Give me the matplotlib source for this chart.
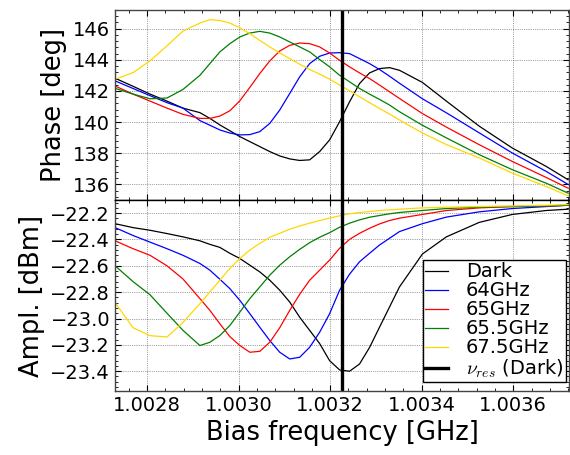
import matplotlib
matplotlib.use("Agg")
import matplotlib.pyplot as plt
from matplotlib.ticker import AutoMinorLocator, MultipleLocator

plt.rcParams['font.family'] = ['DejaVu Sans']
plt.rcParams['mathtext.fontset'] = 'cm'

# Bias frequency samples [GHz]
freq = [1.0027302, 1.0027695, 1.0028065, 1.0028436, 1.0028785,
        1.0029155, 1.0029373, 1.0029591, 1.0029809, 1.0030027, 1.0030245, 1.0030463,
        1.0030681, 1.0030899, 1.0031117, 1.0031335, 1.0031553, 1.0031771, 1.0031989,
        1.0032207, 1.0032425, 1.0032643, 1.0032861, 1.0033079, 1.0033297, 1.0033515,
        1.0034017, 1.0034540, 1.0035259, 1.0035979, 1.0036720, 1.0037200]

labels = ["Dark", "64GHz", "65GHz", "65.5GHz", "67.5GHz"]
colors = ["black", "#0000ff", "#ff0000", "#008000", "#ffd700"]

phase_dark = [142.82, 142.3, 141.8, 141.35, 140.9,
              140.61, 140.24, 139.82, 139.45, 139.07, 138.75, 138.43, 138.11, 137.83, 137.64,
              137.54, 137.58, 138.11, 138.86, 140.03, 141.31, 142.48, 143.16, 143.44, 143.5,
              143.33, 142.55, 141.35, 139.74, 138.34, 137.16, 136.3]
phase_64 = [142.65, 142.16, 141.7, 141.25, 140.9,
            140.1, 139.8, 139.5, 139.3, 139.18, 139.2, 139.39, 139.92, 140.78, 141.84,
            142.91, 143.76, 144.23, 144.44, 144.46, 144.4, 144.08, 143.76, 143.38, 142.95,
            142.5, 141.5, 140.6, 139.31, 138.02, 136.84, 136.0]
phase_65 = [142.32, 141.8, 141.35, 140.9, 140.5,
            140.24, 140.24, 140.39, 140.73, 141.37, 142.23, 143.12, 143.93, 144.57, 144.93,
            145.08, 145.04, 144.83, 144.44, 143.97, 143.55, 143.16, 142.8, 142.38, 141.95,
            141.52, 140.55, 139.68, 138.55, 137.48, 136.45, 135.76]
phase_655 = [142.17, 141.8, 141.5, 141.55, 142.1,
             143.01, 143.76, 144.51, 145.04, 145.47, 145.72, 145.83, 145.72, 145.47, 145.15,
             144.83, 144.51, 144.02, 143.55, 143.01, 142.59, 142.16, 141.8, 141.46, 141.1,
             140.67, 139.8, 138.99, 137.91, 136.95, 136.08, 135.44]
phase_675 = [142.76, 143.18, 143.94, 144.9, 145.85,
             146.36, 146.58, 146.53, 146.36, 146.06, 145.68, 145.25, 144.83, 144.44, 144.08,
             143.72, 143.38, 143.08, 142.76, 142.38, 142.01, 141.63, 141.25, 140.88, 140.52,
             140.14, 139.3, 138.56, 137.7, 136.73, 135.87, 135.27]

ampl_dark = [-22.28, -22.31, -22.33, -22.355, -22.38,
             -22.41, -22.437, -22.46, -22.505, -22.544, -22.595, -22.646, -22.709, -22.785,
             -22.875, -22.99, -23.09, -23.19, -23.32, -23.39, -23.40, -23.345, -23.22, -23.066,
             -22.913, -22.76, -22.51, -22.38, -22.27, -22.21, -22.18, -22.17]
ampl_64 = [-22.31, -22.37, -22.42, -22.47, -22.52,
           -22.582, -22.633, -22.702, -22.773, -22.862, -22.963, -23.066, -23.167, -23.256,
           -23.307, -23.294, -23.218, -23.104, -22.963, -22.785, -22.663, -22.569, -22.505,
           -22.442, -22.391, -22.34, -22.28, -22.23, -22.19, -22.165, -22.15, -22.14]
ampl_65 = [-22.41, -22.47, -22.52, -22.6, -22.7,
           -22.849, -22.938, -23.04, -23.137, -23.205, -23.256, -23.249, -23.18, -23.07,
           -22.938, -22.816, -22.709, -22.633, -22.556, -22.467, -22.399, -22.353, -22.315,
           -22.282, -22.256, -22.238, -22.21, -22.18, -22.16, -22.15, -22.145, -22.14]
ampl_655 = [-22.6, -22.72, -22.82, -22.96, -23.09,
            -23.205, -23.18, -23.129, -23.053, -22.951, -22.849, -22.76, -22.671, -22.595,
            -22.531, -22.475, -22.424, -22.383, -22.348, -22.307, -22.276, -22.251, -22.231,
            -22.218, -22.205, -22.195, -22.18, -22.165, -22.155, -22.15, -22.145, -22.14]
ampl_675 = [-22.88, -23.07, -23.13, -23.14, -23.03,
            -22.887, -22.798, -22.709, -22.62, -22.544, -22.48, -22.43, -22.383, -22.353,
            -22.322, -22.297, -22.276, -22.256, -22.238, -22.22, -22.205, -22.195, -22.188,
            -22.18, -22.175, -22.17, -22.16, -22.155, -22.15, -22.145, -22.14, -22.135]

nu_res = 1.003226

phases = [phase_dark, phase_64, phase_65, phase_655, phase_675]
ampls = [ampl_dark, ampl_64, ampl_65, ampl_655, ampl_675]

fig = plt.figure(figsize=(5.7, 4.55), dpi=100)
ax1 = fig.add_axes([0.2018, 0.5604, 0.7965, 0.4176])
ax2 = fig.add_axes([0.2018, 0.1407, 0.7965, 0.4198], sharex=ax1)

for lab, c, p, a in zip(labels, colors, phases, ampls):
    ax1.plot(freq, p, color=c, lw=0.9, label=lab)
    ax2.plot(freq, a, color=c, lw=0.9, label=lab)

ax1.axvline(nu_res, color='black', lw=2.4)
ax2.axvline(nu_res, color='black', lw=2.4, label=r'$\nu_{res}$ (Dark)')

ax1.set_xlim(1.00273, 1.003722)
ax1.set_ylim(135.0, 147.2)
ax2.set_ylim(-23.55, -22.1)
ax1.xaxis.set_major_locator(MultipleLocator(0.0002))
ax1.yaxis.set_major_locator(MultipleLocator(2))
ax2.yaxis.set_major_locator(MultipleLocator(0.2))

for ax in (ax1, ax2):
    ax.xaxis.set_minor_locator(AutoMinorLocator(5))
    ax.yaxis.set_minor_locator(AutoMinorLocator(5))
    ax.tick_params(which='both', direction='in', top=True, right=True, labelsize=14)
    ax.tick_params(which='major', length=4, width=0.8)
    ax.tick_params(which='minor', length=2, width=0.6)
    ax.grid(True, which='major', color='k', linestyle=':', lw=0.5, alpha=0.7)
    for s in ax.spines.values():
        s.set_linewidth(1.0)
        s.set_color('#444444')
    ax.ticklabel_format(axis='x', useOffset=False)

ax1.spines['bottom'].set_color('black')
ax2.spines['top'].set_color('black')
ax1.tick_params(labelbottom=False)
ax1.set_ylabel('Phase [deg]', fontsize=18.5)
ax2.set_ylabel('Ampl. [dBm]', fontsize=18.5)
ax2.set_xlabel('Bias frequency [GHz]', fontsize=18.5)

leg = ax2.legend(loc='lower right', bbox_to_anchor=(0.993, 0.1604), bbox_transform=fig.transFigure,
                 borderaxespad=0, fontsize=14, labelspacing=0.0, borderpad=0.12,
                 handlelength=1.2, handletextpad=0.9, fancybox=False, framealpha=1)
leg.get_frame().set_edgecolor('black')
leg.get_frame().set_linewidth(1.0)

fig.savefig('out.png', dpi=100)
